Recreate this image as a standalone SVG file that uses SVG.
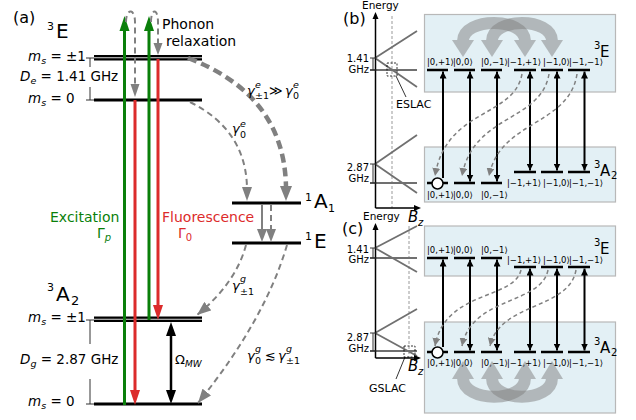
<svg xmlns="http://www.w3.org/2000/svg" width="636" height="420" viewBox="0 0 636 420">
<defs>
<style>
text{font-family:"DejaVu Sans","Liberation Sans",sans-serif;fill:#000}
.it{font-style:italic}
.lvl{stroke:#000;stroke-width:3}
.lv{stroke:#000;stroke-width:2.5}
.brk{stroke:#333;stroke-width:1;fill:none}
.gd{stroke:#808080;fill:none;stroke-dasharray:6,4;stroke-width:2}
.gdt{stroke:#808080;fill:none;stroke-dasharray:9,5;stroke-width:4.5}
.gds{stroke:#808080;fill:none;stroke-dasharray:4,3;stroke-width:1.5}
.gh{fill:#808080}
.box{fill:#e3f0f5;stroke:#b8b8b8;stroke-width:1.2}
.eg{stroke:#707070;stroke-width:1.8;fill:none}
.ax{stroke:#000;stroke-width:1.5;fill:none}
.vd{stroke:#999;stroke-width:1;stroke-dasharray:3,2;fill:none}
.va{stroke:#000;stroke-width:2;fill:none}
.ket{font-size:8.5px}
.arc{fill:none;stroke:#808080;stroke-width:12}
.grn,text.grn{fill:#0a7f0a}
.red,text.red{fill:#dc2b2b}
.sm{font-size:10px}
</style>
<marker id="sh" viewBox="0 0 8 8" refX="8" refY="4" markerWidth="8" markerHeight="8" markerUnits="userSpaceOnUse" orient="auto"><path d="M0,0L8,4L0,8z" fill="#808080"/></marker>
<marker id="mh" viewBox="0 0 14 11" refX="14" refY="5.5" markerWidth="14" markerHeight="11" markerUnits="userSpaceOnUse" orient="auto"><path d="M0,0L14,5.5L0,11z" fill="#808080"/></marker>
<marker id="bh" viewBox="0 0 7 7" refX="7" refY="3.5" markerWidth="7" markerHeight="7" markerUnits="userSpaceOnUse" orient="auto-start-reverse"><path d="M0,0L7,3.5L0,7z" fill="#000"/></marker>
</defs>
<rect width="636" height="420" fill="#fff"/>

<!-- ===== Panel (a) ===== -->
<text x="13" y="23" font-size="16">(a)</text>

<g id="node-3E">
<text x="47" y="30" font-size="11">3</text>
<text x="56" y="38" font-size="20">E</text>
<rect x="94" y="55" width="108" height="5.5" fill="#000"/>
<line x1="94" y1="57.75" x2="202" y2="57.75" stroke="#ddd" stroke-width="1"/>
<line class="lvl" x1="94" y1="100" x2="202" y2="100"/>
<text x="28" y="61" font-size="13.5"><tspan class="it">m</tspan><tspan class="it" font-size="9.5" dy="3">s</tspan><tspan dy="-3"> = ±1</tspan></text>
<text x="20" y="81" font-size="13.5"><tspan class="it">D</tspan><tspan class="it" font-size="9.5" dy="3">e</tspan><tspan dy="-3"> = 1.41 GHz</tspan></text>
<text x="28" y="103" font-size="13.5"><tspan class="it">m</tspan><tspan class="it" font-size="9.5" dy="3">s</tspan><tspan dy="-3"> = 0</tspan></text>
<path class="brk" d="M86,58H94M90,58V67M90,87V100M86,100H94"/>
</g>

<g id="node-1A1">
<line class="lvl" x1="232" y1="203" x2="301" y2="203"/>
<text x="305" y="201" font-size="11">1</text>
<text x="314" y="208" font-size="20">A</text>
<text x="328" y="212" font-size="11">1</text>
</g>

<g id="node-1E">
<line class="lvl" x1="232" y1="243" x2="301" y2="243"/>
<text x="305" y="240" font-size="11">1</text>
<text x="314" y="248" font-size="20">E</text>
</g>

<g id="node-3A2">
<text x="47" y="291" font-size="11">3</text>
<text x="56" y="301" font-size="20">A</text>
<text x="71" y="305" font-size="13">2</text>
<rect x="94" y="316.5" width="108" height="5.5" fill="#000"/>
<line x1="94" y1="319.25" x2="202" y2="319.25" stroke="#ddd" stroke-width="1"/>
<line class="lvl" x1="94" y1="404" x2="202" y2="404"/>
<text x="28" y="322" font-size="13.5"><tspan class="it">m</tspan><tspan class="it" font-size="9.5" dy="3">s</tspan><tspan dy="-3"> = ±1</tspan></text>
<text x="20" y="364" font-size="13.5"><tspan class="it">D</tspan><tspan class="it" font-size="9.5" dy="3">g</tspan><tspan dy="-3"> = 2.87 GHz</tspan></text>
<text x="28" y="406" font-size="13.5"><tspan class="it">m</tspan><tspan class="it" font-size="9.5" dy="3">s</tspan><tspan dy="-3"> = 0</tspan></text>
<path class="brk" d="M86,320H94M90,320V344M90,379V404M86,404H94"/>
</g>

<g id="connectors-a">
<!-- excitation (green) -->
<line x1="124.5" y1="405" x2="124.5" y2="29" stroke="#0a7f0a" stroke-width="3"/>
<polygon class="grn" points="119.5,31 129.5,31 124.5,16"/>
<line x1="149" y1="320" x2="149" y2="29" stroke="#0a7f0a" stroke-width="3"/>
<polygon class="grn" points="144,31 154,31 149,16"/>
<!-- fluorescence (red) -->
<line x1="135" y1="100" x2="135" y2="392" stroke="#dc2b2b" stroke-width="3"/>
<polygon class="red" points="130,390 140,390 135,405"/>
<line x1="158" y1="59" x2="158" y2="307" stroke="#dc2b2b" stroke-width="3"/>
<polygon class="red" points="153,305 163,305 158,320"/>
<!-- phonon relaxation -->
<path class="gd" d="M126,22C126,8 135,8 135,22L135,86"/>
<polygon class="gh" points="130.5,84 139.5,84 135,97"/>
<path class="gd" d="M151,22C151,8 158,8 158,22L158,44"/>
<polygon class="gh" points="153.5,43 162.5,43 158,55"/>
<!-- ISC -->
<path class="gdt" d="M188,58Q285,95 286,188"/>
<polygon class="gh" points="280,186 292,186 286,201"/>
<path class="gd" d="M190,102Q246,130 247,188"/>
<polygon class="gh" points="242,187 252,187 247,201"/>
<!-- 1A1 -> 1E -->
<line x1="262" y1="205" x2="262" y2="230" stroke="#808080" stroke-width="2"/>
<polygon class="gh" points="257,229 267,229 262,242"/>
<line x1="271" y1="205" x2="271" y2="230" class="gd" stroke-dasharray="5,3"/>
<polygon class="gh" points="266,229 276,229 271,242"/>
<!-- 1E -> 3A2 -->
<path class="gd" d="M246,245Q236,283 197,315" marker-end="url(#mh)"/>
<path class="gd" d="M287,245Q265,320 198,403" marker-end="url(#mh)"/>
<!-- microwave -->
<line x1="171" y1="334" x2="171" y2="392" stroke="#000" stroke-width="2.5"/>
<polygon points="166,336 176,336 171,322"/>
<polygon points="166,390 176,390 171,404"/>
</g>

<g id="labels-a">
<text x="162" y="29" font-size="14">Phonon</text>
<text x="166" y="46" font-size="14">relaxation</text>
<text class="grn" x="50" y="222" font-size="14">Excitation</text>
<text class="grn" x="97" y="238" font-size="14">Γ<tspan class="it" font-size="10" dy="3">p</tspan></text>
<text class="red" x="162" y="222" font-size="14">Fluorescence</text>
<text class="red" x="178" y="238" font-size="14">Γ<tspan font-size="10" dy="3">0</tspan></text>
<text font-size="13"><tspan class="it" x="247" y="95">γ</tspan><tspan class="it" x="255" y="88" font-size="9.5">e</tspan><tspan x="255" y="99" font-size="9.5">±1</tspan><tspan x="269" y="95">≫</tspan><tspan class="it" x="285" y="95">γ</tspan><tspan class="it" x="293" y="88" font-size="9.5">e</tspan><tspan x="293" y="99" font-size="9.5">0</tspan></text>
<text font-size="13"><tspan class="it" x="232" y="133">γ</tspan><tspan class="it" x="240" y="127" font-size="9.5">e</tspan><tspan x="240" y="138" font-size="9.5">0</tspan></text>
<text font-size="13"><tspan class="it" x="232" y="290">γ</tspan><tspan class="it" x="240" y="282" font-size="9.5">g</tspan><tspan x="240" y="295" font-size="9.5">±1</tspan></text>
<text font-size="13"><tspan class="it" x="247" y="360">γ</tspan><tspan class="it" x="255" y="352" font-size="9.5">g</tspan><tspan x="255" y="364" font-size="9.5">0</tspan><tspan x="265" y="360">≲</tspan><tspan class="it" x="278" y="360">γ</tspan><tspan class="it" x="286" y="352" font-size="9.5">g</tspan><tspan x="286" y="364" font-size="9.5">±1</tspan></text>
<text x="175" y="364" font-size="13">Ω<tspan class="it" font-size="9" dy="3">MW</tspan></text>
</g>

<!-- ===== Panel (b) ===== -->
<text x="343" y="24" font-size="16">(b)</text>
<g id="plot-b">
<text x="362" y="9" font-size="10.5">Energy</text>
<line class="vd" x1="392" y1="16" x2="392" y2="208"/>
<path class="eg" d="M375,58L417,31M375,58L417,87M370,70H417M375,164L417,135M375,164L417,193M370,183H417"/>
<path class="ax" d="M375.5,208V17M375.5,208H416"/>
<polygon points="372.5,19 378.5,19 375.5,12"/>
<polygon points="414,205 414,211 421,208"/>
<path class="brk" d="M370,58H376M373,58V70M370,70H376M370,164H376M373,164V183M370,183H376"/>
<text class="sm" x="369" y="62" text-anchor="end">1.41</text>
<text class="sm" x="369" y="72.5" text-anchor="end">GHz</text>
<text class="sm" x="369" y="171" text-anchor="end">2.87</text>
<text class="sm" x="369" y="182" text-anchor="end">GHz</text>
<rect x="387" y="63" width="10" height="13" fill="none" stroke="#000" stroke-width="0.8" stroke-dasharray="2,1.5"/>
<line x1="396" y1="76" x2="406" y2="97" stroke="#000" stroke-width="0.8"/>
<text x="396" y="108" font-size="11">ESLAC</text>
<text x="408" y="222" font-size="15" class="it">B</text>
<text x="418" y="226" font-size="10" class="it">z</text>
</g>

<g id="node-b-3E">
<rect class="box" x="424.5" y="14.5" width="191" height="77.5"/>
<text x="594" y="49" font-size="10">3</text>
<text x="600" y="57" font-size="15">E</text>
<path class="lv" d="M427,70H448M454,70H475M481,70H502M514,70H536M541,70H563M568,70H590"/>
<g class="ket"><text x="427" y="65">|0,+1⟩</text><text x="453" y="65">|0,0⟩</text><text x="481" y="65">|0,−1⟩</text><text x="507" y="65">|−1,+1⟩</text><text x="543" y="65">|−1,0⟩</text><text x="569" y="65">|−1,−1⟩</text></g>
</g>

<g id="node-b-3A2">
<rect class="box" x="424.5" y="147" width="191" height="55"/>
<text x="594" y="168" font-size="10">3</text>
<text x="600" y="176" font-size="15">A</text>
<text x="611" y="179" font-size="10">2</text>
<path class="lv" d="M427,183H448M454,183H475M481,183H502M514,172H536M541,172H563M568,172H590"/>
<g class="ket"><text x="427" y="198">|0,+1⟩</text><text x="453" y="198">|0,0⟩</text><text x="481" y="198">|0,−1⟩</text><text x="507" y="186">|−1,+1⟩</text><text x="543" y="186">|−1,0⟩</text><text x="569" y="186">|−1,−1⟩</text></g>
</g>

<g id="connectors-b">
<path class="va" d="M443,178V71.5" marker-end="url(#bh)"/>
<path class="va" d="M470,181.5V71.5" marker-start="url(#bh)" marker-end="url(#bh)"/>
<path class="va" d="M497,181.5V71.5" marker-start="url(#bh)" marker-end="url(#bh)"/>
<path class="va" d="M530,170.5V71.5" marker-start="url(#bh)" marker-end="url(#bh)"/>
<path class="va" d="M557,170.5V71.5" marker-start="url(#bh)" marker-end="url(#bh)"/>
<path class="va" d="M584.5,170.5V71.5" marker-start="url(#bh)" marker-end="url(#bh)"/>
<path class="gds" d="M522,74C514,118 446,108 435,176" marker-end="url(#sh)"/>
<path class="gds" d="M549,74C541,122 473,114 462,176" marker-end="url(#sh)"/>
<path class="gds" d="M577,74C569,126 500,120 489,176" marker-end="url(#sh)"/>
<circle cx="437.5" cy="183.5" r="5.5" fill="#fff" stroke="#000" stroke-width="1.5"/>
<g opacity="0.5"><path class="arc" d="M463,41C463,17 525,17 525,41"/><polygon fill="#808080" points="452,40 474,40 463,57"/><polygon fill="#808080" points="514,40 536,40 525,57"/></g>
<g opacity="0.5"><path class="arc" d="M492,41C492,17 552,17 552,41"/><polygon fill="#808080" points="481,40 503,40 492,57"/><polygon fill="#808080" points="541,40 563,40 552,57"/></g>
</g>

<!-- ===== Panel (c) ===== -->
<text x="342" y="234" font-size="16">(c)</text>
<g id="plot-c">
<text x="363" y="220" font-size="10.5">Energy</text>
<line class="vd" x1="409" y1="226" x2="409" y2="358"/>
<path class="eg" d="M375,248L417,226M375,248L417,272M370,258H417M375,333L417,309M375,333L417,356M370,351H417"/>
<path class="ax" d="M375.5,358V229M375.5,358H416"/>
<polygon points="372.5,230 378.5,230 375.5,223"/>
<polygon points="414,355 414,361 421,358"/>
<path class="brk" d="M370,248H376M373,248V258M370,258H376M370,333H376M373,333V351M370,351H376"/>
<text class="sm" x="369" y="252.5" text-anchor="end">1.41</text>
<text class="sm" x="369" y="263" text-anchor="end">GHz</text>
<text class="sm" x="369" y="341" text-anchor="end">2.87</text>
<text class="sm" x="369" y="352" text-anchor="end">GHz</text>
<rect x="404" y="346" width="11" height="11" fill="none" stroke="#000" stroke-width="0.8" stroke-dasharray="2,1.5"/>
<line x1="405" y1="357" x2="396" y2="379" stroke="#000" stroke-width="0.8"/>
<text x="369" y="392" font-size="11">GSLAC</text>
<text x="408" y="371" font-size="15" class="it">B</text>
<text x="418" y="375" font-size="10" class="it">z</text>
</g>

<g id="node-c-3E">
<rect class="box" x="424.5" y="226" width="191" height="50"/>
<text x="594" y="246" font-size="10">3</text>
<text x="600" y="254" font-size="15">E</text>
<path class="lv" d="M427,258H448M454,258H475M481,258H502M514,267H536M541,267H563M568,267H590"/>
<g class="ket"><text x="427" y="253">|0,+1⟩</text><text x="453" y="253">|0,0⟩</text><text x="481" y="253">|0,−1⟩</text><text x="507" y="262.5">|−1,+1⟩</text><text x="543" y="262.5">|−1,0⟩</text><text x="569" y="262.5">|−1,−1⟩</text></g>
</g>

<g id="node-c-3A2">
<rect class="box" x="424.5" y="322" width="191" height="91"/>
<text x="594" y="345" font-size="10">3</text>
<text x="600" y="353" font-size="15">A</text>
<text x="611" y="356" font-size="10">2</text>
<path class="lv" d="M427,352H448M454,352H475M481,352H502M514,352H536M541,352H563M568,352H590"/>
<g class="ket"><text x="427" y="366">|0,+1⟩</text><text x="453" y="366">|0,0⟩</text><text x="481" y="366">|0,−1⟩</text><text x="507" y="366">|−1,+1⟩</text><text x="543" y="366">|−1,0⟩</text><text x="569" y="366">|−1,−1⟩</text></g>
</g>

<g id="connectors-c">
<path class="va" d="M443,347V259.5" marker-end="url(#bh)"/>
<path class="va" d="M470,350.5V259.5" marker-start="url(#bh)" marker-end="url(#bh)"/>
<path class="va" d="M497,350.5V259.5" marker-start="url(#bh)" marker-end="url(#bh)"/>
<path class="va" d="M530,350.5V268.5" marker-start="url(#bh)" marker-end="url(#bh)"/>
<path class="va" d="M557,350.5V268.5" marker-start="url(#bh)" marker-end="url(#bh)"/>
<path class="va" d="M584.5,350.5V268.5" marker-start="url(#bh)" marker-end="url(#bh)"/>
<path class="gds" d="M521,270C514,300 445,290 435,346" marker-end="url(#sh)"/>
<path class="gds" d="M548,270C541,305 472,296 462,346" marker-end="url(#sh)"/>
<path class="gds" d="M576,270C569,310 500,302 490,346" marker-end="url(#sh)"/>
<circle cx="437.5" cy="352.5" r="5.5" fill="#fff" stroke="#000" stroke-width="1.5"/>
<g opacity="0.5"><path class="arc" d="M463,378C463,403 525,403 525,378"/><polygon fill="#808080" points="452,379 474,379 463,361"/><polygon fill="#808080" points="514,379 536,379 525,361"/></g>
<g opacity="0.5"><path class="arc" d="M492,378C492,403 552,403 552,378"/><polygon fill="#808080" points="481,379 503,379 492,361"/><polygon fill="#808080" points="541,379 563,379 552,361"/></g>
</g>
</svg>
